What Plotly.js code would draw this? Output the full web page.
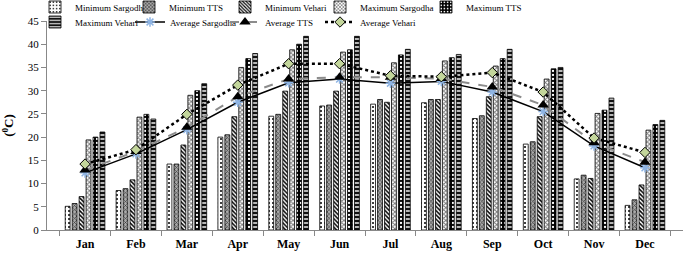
<!DOCTYPE html>
<html><head><meta charset="utf-8">
<script src="https://cdn.plot.ly/plotly-3.0.1.min.js"></script>
<style>html,body{margin:0;padding:0;background:#fff}#chart{width:685px;height:255px}</style>
</head><body><div id="chart"></div>
<script>
const months = ["Jan","Feb","Mar","Apr","May","Jun","Jul","Aug","Sep","Oct","Nov","Dec"];
const minSargodha = [5.1, 8.5, 14.2, 20.0, 24.5, 26.7, 27.1, 27.4, 24.0, 18.5, 11.0, 5.3];
const minTTS      = [5.7, 8.9, 14.2, 20.5, 24.9, 26.9, 28.1, 28.1, 24.6, 19.0, 11.8, 6.5];
const minVehari   = [7.2, 10.8, 18.3, 24.4, 29.9, 29.9, 27.5, 28.1, 28.7, 24.4, 11.1, 9.7];
const maxSargodha = [19.4, 24.3, 29.0, 35.0, 38.8, 38.3, 36.0, 36.4, 35.3, 32.5, 25.1, 21.5];
const maxTTS      = [20.0, 24.9, 30.0, 36.9, 40.0, 38.8, 37.7, 37.1, 36.9, 34.7, 25.8, 22.7];
const maxVehari   = [21.1, 23.9, 31.5, 38.0, 41.7, 41.7, 38.9, 37.8, 38.9, 35.0, 28.4, 23.6];
const avgSargodha = [12.3, 16.4, 21.6, 27.5, 31.7, 32.5, 31.6, 32.0, 29.7, 25.5, 18.1, 13.4];
const avgTTS      = [12.9, 16.9, 22.1, 28.7, 32.5, 32.9, 32.9, 32.6, 30.8, 26.9, 18.8, 14.6];
const avgVehari   = [14.2, 17.3, 24.9, 31.2, 35.8, 35.8, 33.2, 33.0, 33.9, 29.7, 19.8, 16.7];
const yTicks = [0,5,10,15,20,25,30,35,40,45];

function bar(name, y, pat, legend) {
  return {type:'bar', name:name, x:months, y:y, legend:legend,
    marker:{color:pat.bg, line:{color:'#000', width:0.8},
      pattern:{shape:pat.shape, fgcolor:pat.fg, bgcolor:pat.bg, size:pat.size, solidity:pat.sol, fillmode:'replace'}},
    hoverinfo:'skip'};
}
const traces = [
  bar('Minimum Sargodha', minSargodha, {shape:'.', fg:'#000', bg:'#fff', size:4, sol:0.2}, 'legend'),
  bar('Minimum TTS', minTTS, {shape:'x', fg:'#333', bg:'#aaa', size:3, sol:0.4}, 'legend2'),
  bar('Minimum Vehari', minVehari, {shape:'\\', fg:'#000', bg:'#fff', size:3, sol:0.5}, 'legend3'),
  bar('Maximum Sargodha', maxSargodha, {shape:'x', fg:'#777', bg:'#fff', size:3, sol:0.5}, 'legend4'),
  bar('Maximum TTS', maxTTS, {shape:'.', fg:'#fff', bg:'#000', size:4, sol:0.25}, 'legend5'),
  bar('Maximum Vehari', maxVehari, {shape:'-', fg:'#fff', bg:'#111', size:4, sol:0.35}, 'legend6'),
  {type:'scatter', mode:'lines+markers', name:'Average Sargodha', x:months, y:avgSargodha, legend:'legend7',
    line:{color:'#000', width:1.5}, marker:{symbol:'asterisk-open', size:8, color:'#8eb4e3', line:{color:'#8eb4e3', width:1.5}}},
  {type:'scatter', mode:'lines+markers', name:'Average TTS', x:months, y:avgTTS, legend:'legend8',
    line:{color:'#8c8c8c', width:2, dash:'dash'}, marker:{symbol:'triangle-up', size:10, color:'#000'}},
  {type:'scatter', mode:'lines+markers', name:'Average Vehari', x:months, y:avgVehari, legend:'legend9',
    line:{color:'#000', width:2.5, dash:'dot'}, marker:{symbol:'diamond', size:8, color:'#c3d69b', line:{color:'#000', width:1}}}
];
const SERIF = 'Liberation Serif';
const legFont = {family:SERIF, size:9, color:'#000'};
// legend item positions in pixels: [text start x, centre y]
const legPos = [[75,7],[169,7],[265,7],[360,7],[466,7],[75,22],[170,22],[265,22],[360,22]];
const L = 47, T = 21, PW = 636, PH = 209;
const layout = {
  width:685, height:255,
  margin:{l:L, r:2, t:T, b:25, autoexpand:false},
  paper_bgcolor:'#fff', plot_bgcolor:'#fff',
  barmode:'group', bargap:0.18, bargroupgap:0.3,
  font:{family:SERIF, color:'#000'},
  xaxis:{type:'category', tickson:'boundaries', ticks:'outside', ticklen:5, tickcolor:'#888',
    showline:true, linecolor:'#888', linewidth:1, showgrid:false, zeroline:false, ticklabelstandoff:3,
    tickfont:{family:SERIF, size:12, weight:'bold'}},
  yaxis:{range:[0,45], tickvals:yTicks, ticktext:yTicks.map(String), ticks:'outside', ticklen:5, tickcolor:'#888',
    showline:true, linecolor:'#888', linewidth:1, showgrid:false, zeroline:false,
    tickfont:{family:SERIF, size:11},
    title:{text:'(<sup>0</sup>C)', font:{family:SERIF, size:13, weight:'bold'}, standoff:12}},
  showlegend:true
};
legPos.forEach((p, i) => {
  const key = i === 0 ? 'legend' : 'legend' + (i + 1);
  layout[key] = {orientation:'h', xref:'paper', yref:'paper',
    x:(p[0] - 40 - L) / PW, xanchor:'left', y:(T + PH - p[1]) / PH, yanchor:'middle',
    font:legFont, bgcolor:'rgba(0,0,0,0)', itemwidth:30};
});
Plotly.newPlot('chart', traces, layout, {displayModeBar:false, staticPlot:true});
</script></body></html>
